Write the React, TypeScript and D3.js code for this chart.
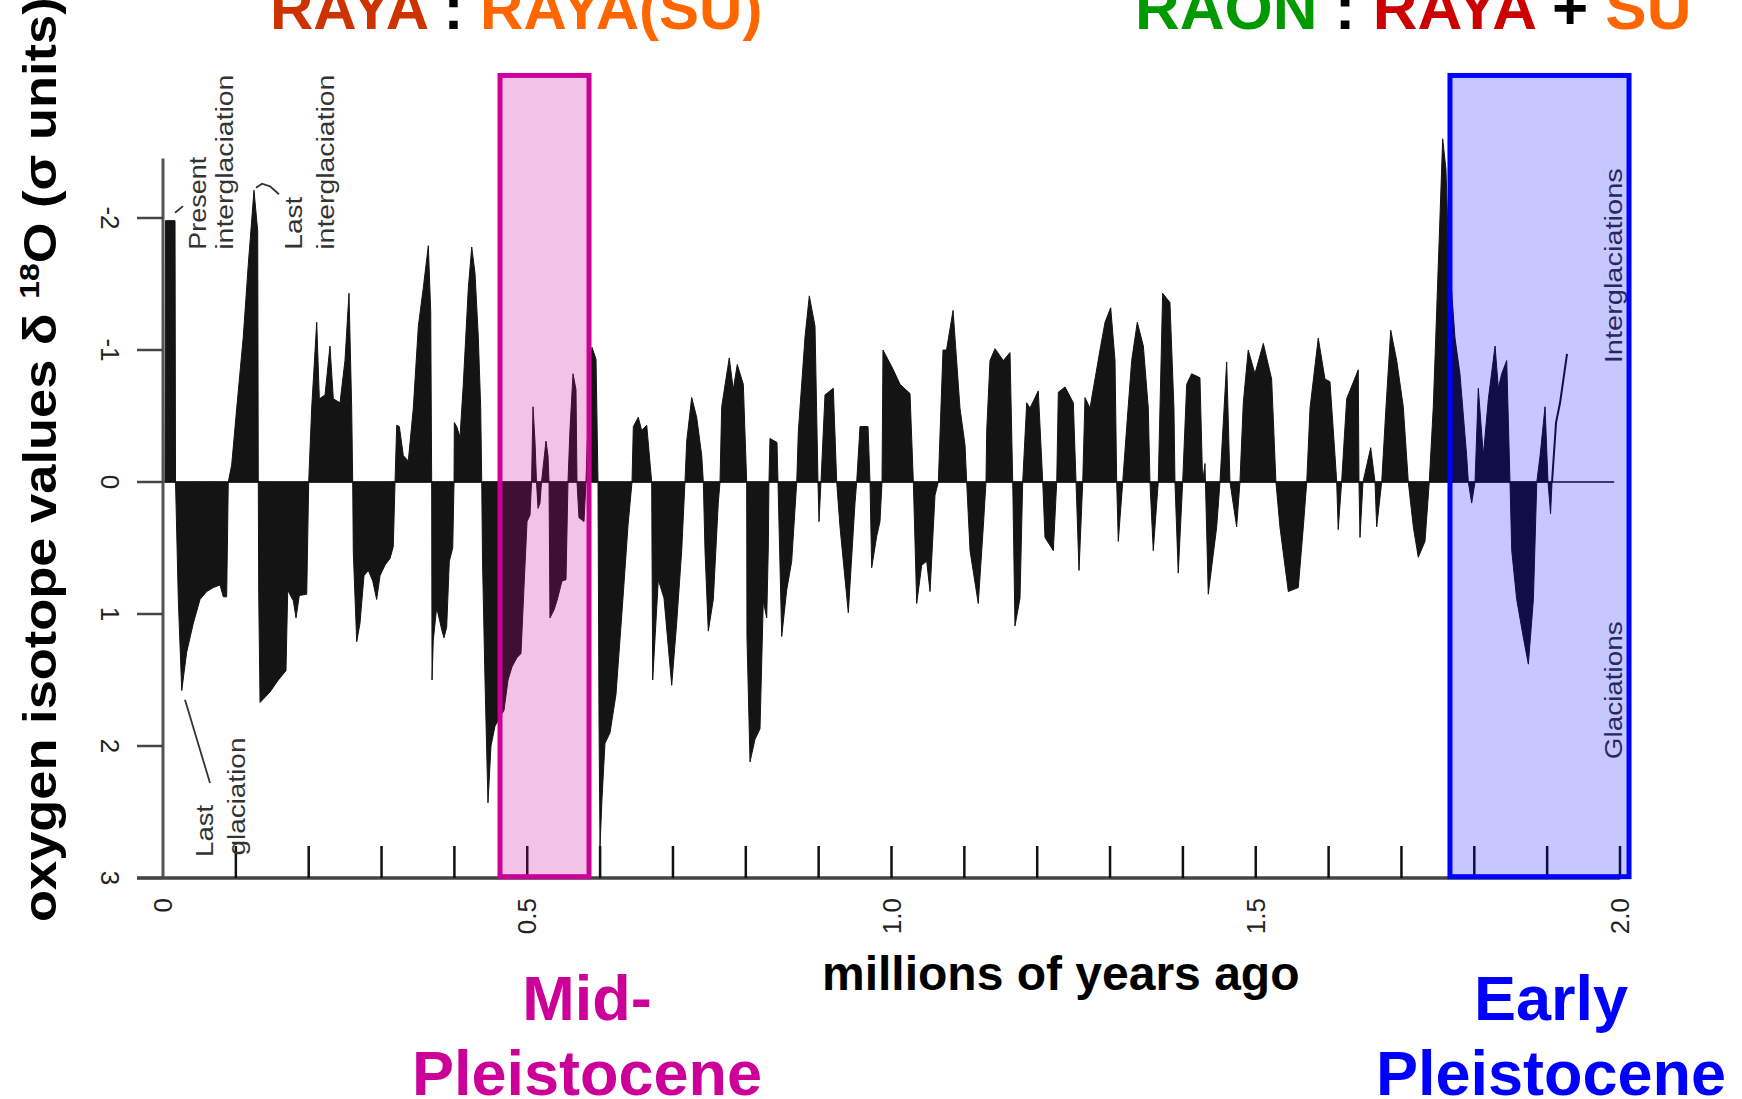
import React, { useRef, useEffect } from "react";
import * as d3 from "d3";

// age (millions of years ago), oxygen isotope value (sigma units, + = glacial)
const isotopeRecord: [number, number][] = [
  [0.0027, 0], [0.0034, -1.98], [0.0165, -1.98], [0.0172, 0], [0.021, 0.89], [0.0257, 1.58], [0.0325, 1.29],
  [0.0416, 1.07], [0.0508, 0.89], [0.06, 0.83], [0.069, 0.8], [0.0782, 0.78], [0.0828, 0.87], [0.0874, 0.87], [0.0896, 0],
  [0.0943, -0.13], [0.1012, -0.56], [0.1102, -1.1], [0.1171, -1.65], [0.1249, -2.21], [0.13, -1.9], [0.1308, 0],
  [0.1314, 0.85], [0.1332, 1.67], [0.1469, 1.59], [0.1583, 1.5], [0.1688, 1.43], [0.1712, 0.82], [0.1789, 0.9],
  [0.1826, 1.03], [0.1871, 0.86], [0.1973, 0.85], [0.2, 0],
  [0.2041, -0.56], [0.211, -1.21], [0.2146, -0.63], [0.2224, -0.66], [0.2292, -1.03], [0.2338, -0.63], [0.243, -0.6],
  [0.2498, -0.92], [0.2553, -1.43], [0.259, -0.56], [0.2604, 0],
  [0.2612, 0.53], [0.2659, 1.21], [0.2704, 1.07], [0.2759, 0.71], [0.2818, 0.67], [0.2879, 0.75], [0.2933, 0.89],
  [0.2979, 0.71], [0.3047, 0.63], [0.3116, 0.58], [0.3161, 0.49], [0.3185, 0],
  [0.3208, -0.43], [0.3244, -0.42], [0.3299, -0.2], [0.3367, -0.16], [0.3436, -0.56], [0.3505, -1.18], [0.3573, -1.47],
  [0.3642, -1.79], [0.3675, -1.29], [0.3688, 0],
  [0.3693, 1.5], [0.371, 1.2], [0.3757, 0.95], [0.3826, 1.12], [0.3857, 1.18], [0.3894, 1.1], [0.393, 0.6], [0.3977, 0.5], [0.3995, 0],
  [0.3999, -0.45], [0.4032, -0.42], [0.4077, -0.34], [0.4122, -0.74], [0.4191, -1.47], [0.4238, -1.78], [0.4283, -1.58],
  [0.4328, -1.1], [0.4361, -0.56], [0.4375, 0],
  [0.4386, 0.6], [0.442, 1.5], [0.4461, 2.43], [0.4502, 2.0], [0.4557, 1.85], [0.4626, 1.78], [0.4681, 1.73], [0.4736, 1.5],
  [0.4791, 1.4], [0.4859, 1.33], [0.4914, 1.3], [0.4955, 0.8], [0.4997, 0.3], [0.5038, 0.25], [0.5059, 0],
  [0.5079, -0.57], [0.5107, -0.3], [0.5127, 0], [0.5148, 0.2], [0.5175, 0.16], [0.5196, 0], [0.5257, -0.31], [0.5285, -0.2], [0.5299, 0],
  [0.5312, 1.03], [0.5367, 0.97], [0.5408, 0.9], [0.5477, 0.75], [0.5532, 0.74], [0.5559, 0], [0.5587, -0.4], [0.5628, -0.82],
  [0.5669, -0.7], [0.5683, 0], [0.571, 0.27], [0.5779, 0.3], [0.5806, 0],
  [0.5861, -0.9], [0.5889, -1.02], [0.5944, -0.93], [0.5971, 0],
  [0.5985, 1.8], [0.5999, 2.76], [0.6026, 2.4], [0.6067, 1.98], [0.6136, 1.9], [0.6218, 1.61], [0.6314, 0.88], [0.6383, 0.33], [0.6438, 0],
  [0.6456, -0.42], [0.6524, -0.49], [0.6571, -0.39], [0.664, -0.43], [0.6708, 0],
  [0.6722, 1.5], [0.6799, 0.74], [0.6877, 0.88], [0.6983, 1.54], [0.7051, 1.07], [0.712, 0.52], [0.7165, 0],
  [0.7189, -0.31], [0.7257, -0.64], [0.7326, -0.49], [0.7395, -0.2], [0.7417, 0],
  [0.744, 0.52], [0.7485, 1.13], [0.7554, 0.89], [0.7622, 0.16], [0.7646, 0],
  [0.7669, -0.57], [0.7773, -0.94], [0.7828, -0.7], [0.7883, -0.89], [0.7966, -0.74], [0.8012, 0],
  [0.8016, 1.17], [0.8058, 2.12], [0.8126, 1.95], [0.8195, 1.87], [0.824, 0.9], [0.8287, 1.03], [0.8309, 0.5], [0.8318, 0],
  [0.8332, -0.33], [0.8428, -0.3], [0.8442, 0],
  [0.8493, 1.17], [0.8561, 0.82], [0.863, 0.6], [0.8699, 0],
  [0.8721, -0.38], [0.8813, -1.1], [0.8872, -1.41], [0.895, -1.18], [0.8991, 0], [0.9005, 0.3], [0.9032, 0],
  [0.9087, -0.66], [0.9201, -0.71], [0.9248, 0],
  [0.9293, 0.34], [0.9407, 0.99], [0.9499, 0.16], [0.9522, 0], [0.9568, -0.42], [0.9678, -0.42], [0.9705, 0],
  [0.9728, 0.65], [0.9797, 0.41], [0.9842, 0.3], [0.987, 0],
  [0.9883, -1.0], [1.0025, -0.85], [1.0117, -0.74], [1.0254, -0.67], [1.03, 0],
  [1.0346, 0.92], [1.0415, 0.63], [1.0483, 0.6], [1.0529, 0.83], [1.0597, 0.1], [1.0643, 0],
  [1.0707, -1.0], [1.0755, -1.0], [1.0845, -1.3], [1.094, -0.56], [1.1009, -0.28], [1.1032, 0],
  [1.1078, 0.52], [1.1191, 0.92], [1.126, 0.34], [1.1297, 0],
  [1.1307, -0.39], [1.1352, -0.92], [1.1421, -1.01], [1.1535, -0.92], [1.1627, -0.98], [1.1664, 0],
  [1.1695, 1.09], [1.1764, 0.88], [1.1801, 0],
  [1.1856, -0.6], [1.1901, -0.56], [1.2015, -0.69], [1.2076, 0],
  [1.2107, 0.42], [1.2221, 0.52], [1.2268, 0],
  [1.229, -0.68], [1.2382, -0.72], [1.2496, -0.6], [1.2533, 0],
  [1.2574, 0.67], [1.2625, 0],
  [1.2656, -0.64], [1.2725, -0.56], [1.2862, -1.0], [1.2931, -1.21], [1.3009, -1.32], [1.3068, -0.92], [1.3091, 0],
  [1.3113, 0.45], [1.3174, 0],
  [1.3229, -0.42], [1.3297, -0.92], [1.3374, -1.21], [1.3457, -1.03], [1.3525, -0.56], [1.3548, 0],
  [1.3593, 0.52], [1.3662, 0],
  [1.3722, -1.43], [1.3822, -1.36], [1.3877, -0.56], [1.3891, 0],
  [1.3936, 0.69], [1.3997, 0],
  [1.4052, -0.74], [1.412, -0.82], [1.4234, -0.79], [1.4271, 0], [1.4303, -0.14],
  [1.4348, 0.85], [1.4464, 0.34], [1.4509, 0],
  [1.4601, -0.91], [1.4646, 0], [1.4738, 0.34], [1.4783, 0],
  [1.4829, -0.6], [1.4897, -1.0], [1.4989, -0.82], [1.5104, -1.05], [1.5218, -0.78], [1.5277, 0],
  [1.5332, 0.34], [1.5447, 0.83], [1.5584, 0.8], [1.5653, 0.34], [1.57, 0],
  [1.5745, -0.56], [1.5858, -1.09], [1.595, -0.78], [1.6019, -0.76], [1.6088, -0.2], [1.6111, 0],
  [1.6132, 0.36], [1.6179, 0],
  [1.6248, -0.63], [1.6407, -0.85], [1.6417, 0], [1.6431, 0.42], [1.6472, 0],
  [1.6578, -0.26], [1.6637, 0], [1.666, 0.34], [1.6729, 0],
  [1.6788, -0.57], [1.6853, -1.15], [1.6935, -0.92], [1.7025, -0.57], [1.7094, 0],
  [1.7163, 0.34], [1.7231, 0.57], [1.7323, 0.45], [1.7382, 0],
  [1.7437, -0.57], [1.7484, -1.3], [1.7529, -2.01], [1.7566, -2.6], [1.7611, -2.37], [1.7643, -1.8], [1.7735, -1.09],
  [1.7803, -0.82], [1.7895, -0.2], [1.7918, 0],
  [1.7964, 0.16], [1.801, 0],
  [1.8055, -0.71], [1.8124, -0.2], [1.8193, -0.63], [1.8285, -1.03], [1.833, -0.71], [1.8376, -0.82], [1.8445, -0.92], [1.849, 0],
  [1.8514, 0.52], [1.8582, 0.89], [1.8674, 1.18], [1.8742, 1.38], [1.8811, 0.89], [1.8858, 0],
  [1.8903, -0.2], [1.8971, -0.57], [1.9012, 0], [1.9047, 0.24], [1.9067, 0],
];

// last thin stretch of the record, drawn as a line
const recordTail: [number, number][] = [
  [1.9067, 0], [1.9122, -0.45], [1.9177, -0.6], [1.9273, -0.97],
];

const ageTicks = [0, 0.5, 1.0, 1.5, 2.0];
const ageTickLabels = ["0", "0.5", "1.0", "1.5", "2.0"];
const minorAgeTicks = [0.1, 0.2, 0.3, 0.4, 0.5, 0.6, 0.7, 0.8, 0.9, 1.0, 1.1, 1.2, 1.3, 1.4, 1.5, 1.6, 1.7, 1.8, 1.9, 2.0];
const sigmaTicks = [-2, -1, 0, 1, 2, 3];
const sigmaTickLabels = ["-2", "-1", "0", "1", "2", "3"];

const midPleistocene = [0.4626, 0.5848];
const earlyPleistocene = [1.7666, 2.0124];
const bandSigma = [-3.08, 2.99];
const zeroLineEnd = 1.992;
const axisTop = -2.45;

const FONT = "'Liberation Sans', Arial, Helvetica, sans-serif";

const App = () => {
  const svgRef = useRef(null);

  useEffect(() => {
    const svg = d3.select(svgRef.current);
    svg.selectAll("*").remove();

    const x = d3.scaleLinear().domain([0, 2]).range([163, 1620]);
    const y = d3.scaleLinear().domain([0, 3]).range([482, 878]);

    svg.append("rect").attr("width", 1742).attr("height", 1099).attr("fill", "white");

    // isotope record
    const area = d3
      .area<[number, number]>()
      .x((d) => x(d[0]))
      .y0(y(0))
      .y1((d) => y(d[1]));

    svg
      .append("path")
      .datum(isotopeRecord)
      .attr("fill", "#141414")
      .attr("stroke", "#141414")
      .attr("stroke-width", 1)
      .attr("d", area);

    svg
      .append("path")
      .datum(recordTail)
      .attr("fill", "none")
      .attr("stroke", "#141414")
      .attr("stroke-width", 2)
      .attr(
        "d",
        d3
          .line<[number, number]>()
          .x((d) => x(d[0]))
          .y((d) => y(d[1]))
      );

    // zero line
    svg
      .append("line")
      .attr("x1", x(0))
      .attr("x2", x(zeroLineEnd))
      .attr("y1", y(0))
      .attr("y2", y(0))
      .attr("stroke", "#111")
      .attr("stroke-width", 1.6);

    // axes
    svg
      .append("line")
      .attr("x1", x(0))
      .attr("x2", x(0))
      .attr("y1", y(axisTop))
      .attr("y2", y(3))
      .attr("stroke", "#555")
      .attr("stroke-width", 3);

    svg
      .append("line")
      .attr("x1", x(0) - 26)
      .attr("x2", x(2))
      .attr("y1", y(3))
      .attr("y2", y(3))
      .attr("stroke", "#444")
      .attr("stroke-width", 3.5);

    svg
      .selectAll(".ytick")
      .data(sigmaTicks)
      .join("line")
      .attr("x1", x(0) - 26)
      .attr("x2", x(0))
      .attr("y1", (d) => y(d))
      .attr("y2", (d) => y(d))
      .attr("stroke", "#444")
      .attr("stroke-width", 2.5);

    svg
      .selectAll(".ylab")
      .data(sigmaTicks)
      .join("text")
      .attr("transform", (d) => `translate(${x(0) - 62},${y(d)}) rotate(90)`)
      .attr("text-anchor", "middle")
      .attr("font-family", FONT)
      .attr("font-size", 26)
      .attr("fill", "#222")
      .text((d, i) => sigmaTickLabels[i]);

    svg
      .selectAll(".xtick")
      .data(minorAgeTicks)
      .join("line")
      .attr("x1", (d) => x(d))
      .attr("x2", (d) => x(d))
      .attr("y1", y(3) - 32)
      .attr("y2", y(3))
      .attr("stroke", "#111")
      .attr("stroke-width", 2.5);

    svg
      .selectAll(".xlab")
      .data(ageTicks)
      .join("text")
      .attr("transform", (d) => `translate(${x(d) + 9},${y(3) + 20}) rotate(-90)`)
      .attr("text-anchor", "end")
      .attr("font-family", FONT)
      .attr("font-size", 26)
      .attr("fill", "#222")
      .text((d, i) => ageTickLabels[i]);

    // annotations inside the plot
    const note = (t: number, v: number, label: string, len: number) =>
      svg
        .append("text")
        .attr("transform", `translate(${x(t)},${y(v)}) rotate(-90)`)
        .attr("font-family", FONT)
        .attr("font-size", 23)
        .attr("fill", "#333")
        .attr("textLength", len)
        .attr("lengthAdjust", "spacingAndGlyphs")
        .text(label);

    note(0.059, -1.76, "Present", 93);
    note(0.096, -1.76, "interglaciation", 175);
    note(0.191, -1.76, "Last", 53);
    note(0.235, -1.76, "interglaciation", 175);
    note(0.0686, 2.84, "Last", 52);
    note(0.1126, 2.83, "glaciation", 118);
    note(2.0027, -0.9, "Interglaciations", 195);
    note(2.0027, 2.1, "Glaciations", 138);

    const leader = d3
      .line<[number, number]>()
      .x((d) => x(d[0]))
      .y((d) => y(d[1]));
    const leaders: [number, number][][] = [
      [[0.0165, -2.04], [0.0275, -2.09]],
      [[0.1277, -2.23], [0.1359, -2.26], [0.1469, -2.24], [0.1592, -2.18]],
      [[0.0302, 1.65], [0.0645, 2.28]],
    ];
    leaders.forEach((pts) =>
      svg
        .append("path")
        .attr("d", leader(pts))
        .attr("fill", "none")
        .attr("stroke", "#333")
        .attr("stroke-width", 1.8)
    );

    // highlighted periods
    const band = (range: number[], color: string, alpha: number) =>
      svg
        .append("rect")
        .attr("x", x(range[0]))
        .attr("y", y(bandSigma[0]))
        .attr("width", x(range[1]) - x(range[0]))
        .attr("height", y(bandSigma[1]) - y(bandSigma[0]))
        .attr("fill", color)
        .attr("fill-opacity", alpha)
        .attr("stroke", color)
        .attr("stroke-width", 5);

    band(midPleistocene, "#cc0099", 0.24);
    band(earlyPleistocene, "#0000ff", 0.22);

    // titles
    const title = (xPos: number, size: number, parts: [string, string][]) => {
      const t = svg
        .append("text")
        .attr("x", xPos)
        .attr("y", 29)
        .attr("font-family", FONT)
        .attr("font-weight", "bold")
        .attr("font-size", size)
        .attr("xml:space", "preserve");
      parts.forEach(([s, c]) => t.append("tspan").attr("fill", c).text(s));
    };
    title(270, 60, [["RAYA", "#cc3300"], [" : ", "#000"], ["RAYA(SU)", "#ff6600"]]);
    title(1135, 62, [
      ["RAON", "#009900"],
      [" : ", "#000"],
      ["RAYA", "#cc0000"],
      [" + ", "#000"],
      ["SU", "#ff6600"],
    ]);

    const big = (xPos: number, yPos: number, s: string, c: string, size: number, anchor = "middle") =>
      svg
        .append("text")
        .attr("x", xPos)
        .attr("y", yPos)
        .attr("text-anchor", anchor)
        .attr("font-family", FONT)
        .attr("font-weight", "bold")
        .attr("font-size", size)
        .attr("fill", c)
        .text(s);

    big(822, 990, "millions of years ago", "#000", 48, "start");
    big(587, 1020, "Mid-", "#cc0099", 63);
    big(587, 1095, "Pleistocene", "#cc0099", 63);
    big(1551, 1020, "Early", "#0000ff", 63);
    big(1551, 1095, "Pleistocene", "#0000ff", 63);

    // y axis title
    const yt = svg
      .append("text")
      .attr("transform", "translate(56,922) rotate(-90) scale(1.14,1)")
      .attr("font-family", FONT)
      .attr("font-weight", "bold")
      .attr("font-size", 46)
      .attr("fill", "#000");
    yt.append("tspan").text("oxygen isotope values δ ");
    yt.append("tspan").attr("font-size", 28).attr("dy", -17).text("18");
    yt.append("tspan").attr("dy", 17).text("O (σ units)");
  }, []);

  return (
    <svg
      ref={svgRef}
      width={1742}
      height={1099}
      style={{ position: "absolute", left: 0, top: 0, display: "block" }}
    />
  );
};

export default App;
